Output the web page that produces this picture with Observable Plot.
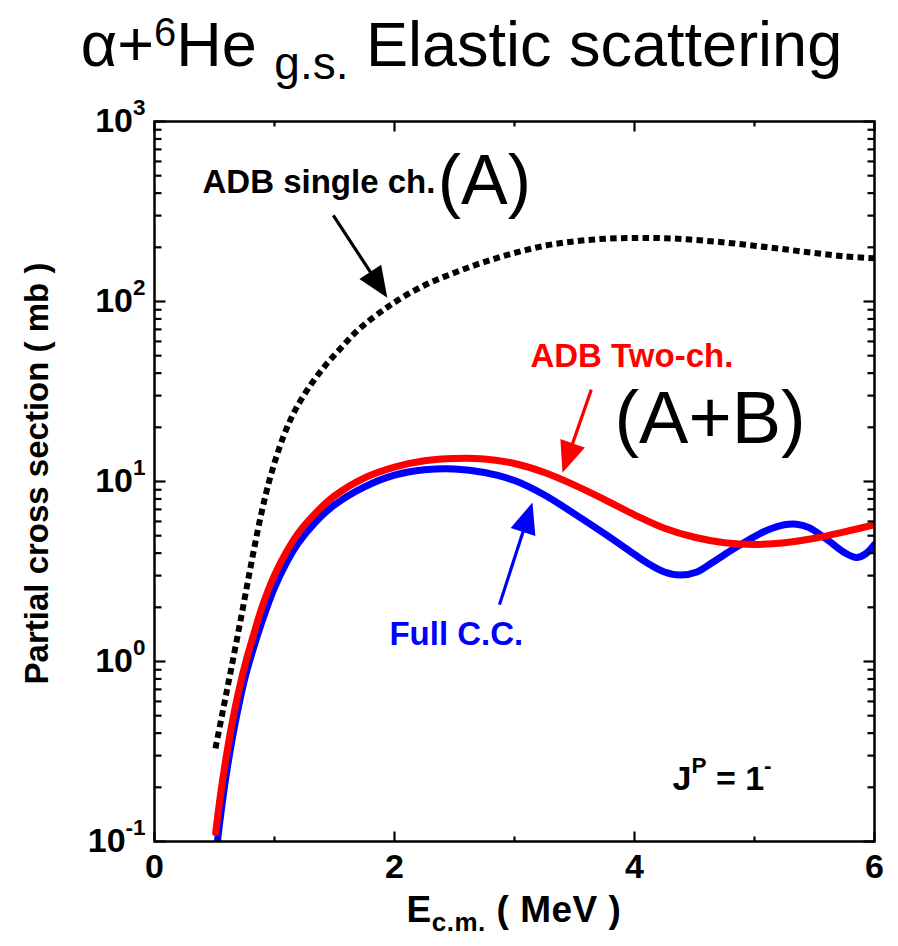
<!DOCTYPE html>
<html><head><meta charset="utf-8">
<script src="https://cdn.jsdelivr.net/npm/d3@7"></script>
<script src="https://cdn.jsdelivr.net/npm/@observablehq/plot@0.6"></script>
<style>
body{margin:0;background:#fff;}
#wrap{position:relative;width:898px;height:946px;font-family:"Liberation Sans",Arial,sans-serif;color:#000;overflow:hidden;background:#fff;}
#title{position:absolute;left:0;top:13px;width:923px;text-align:center;font-size:63px;line-height:63px;white-space:nowrap;}
#title .sup{font-size:40px;position:relative;top:-20px;}
#title .sub{font-size:46px;position:relative;top:13px;}
#chart{position:absolute;left:0;top:80px;}
#xlabel{position:absolute;left:130px;top:891px;width:768px;text-align:center;font-weight:bold;font-size:37px;line-height:37px;letter-spacing:0.5px;white-space:nowrap;}
#xlabel .sub{font-size:26px;position:relative;top:9px;}
</style></head>
<body>
<div id="wrap">
  <div id="title">α+<span class="sup">6</span>He <span class="sub">g.s.</span> Elastic scattering</div>
  <div id="chart"></div>
  <div id="xlabel">E<span class="sub">c.m.</span> ( MeV )</div>
</div>
<script>
// ---- data (E in MeV, cross section in mb) ----
const energyA = [0.508,0.567,0.633,0.717,0.80,0.883,0.967,1.075,1.175,1.30,1.425,1.55,1.675,1.80,1.925,2.025,2.25,2.50,2.75,3.00,3.25,3.50,3.75,4.00,4.25,4.50,4.75,5.00,5.25,5.50,5.75,6.00];
const sigmaA  = [0.329,0.521,0.869,1.690,3.327,6.31,10.7,17.8,25.1,34.3,44.2,54.8,67.3,79.4,91.4,101.4,123,144.5,166,186,204,216,223,225.4,224.9,219.8,212.8,204,195,186,178,174];

const energyAB = [0.51,0.55,0.60,0.65,0.70,0.75,0.80,0.90,1.00,1.10,1.20,1.35,1.50,1.75,2.00,2.25,2.50,2.75,3.00,3.25,3.50,3.75,4.00,4.25,4.50,4.75,5.00,5.25,5.50,5.75,6.00];
const sigmaAB  = [0.112,0.182,0.302,0.468,0.676,0.933,1.23,2.04,3.02,4.07,5.19,6.76,8.32,10.47,12.02,13.03,13.43,13.34,12.59,11.22,9.55,7.94,6.53,5.50,4.90,4.57,4.47,4.57,4.84,5.25,5.75];

const energyCC = [0.525,0.55,0.60,0.65,0.70,0.75,0.80,0.90,1.00,1.10,1.20,1.35,1.50,1.75,2.00,2.25,2.50,2.75,3.00,3.25,3.50,3.75,4.00,4.10,4.25,4.38,4.52,4.65,4.80,4.95,5.10,5.25,5.35,5.45,5.60,5.75,5.85,5.93,6.00];
const sigmaCC  = [0.100,0.138,0.240,0.380,0.562,0.794,1.047,1.698,2.570,3.548,4.571,6.026,7.413,9.333,10.84,11.61,11.75,11.22,10.12,8.414,6.607,5.129,3.936,3.548,3.141,3.020,3.141,3.548,4.121,4.732,5.346,5.754,5.794,5.559,4.786,4.027,3.784,3.981,4.467];

const xTicksMajor = [0,2,4,6];
const xTicksMinor = [1,3,5];
const yTicksMajor = [0.1,1,10,100,1000];
const yTickLabels = ["10^{-1}","10^{0}","10^{1}","10^{2}","10^{3}"];
const yTicksMinor = [];
for (const dec of [0.1,1,10,100]) for (let k = 2; k <= 9; k++) yTicksMinor.push(+(k*dec).toPrecision(3));

const noteText = ["ADB single ch.","(A)","ADB Two-ch.","(A+B)","Full C.C.","J^{P} = 1^{-}"];
const noteX    = [0.40, 2.36, 3.133, 3.833, 1.958, 4.317];
const noteY    = [461, 464, 49.5, 22.2, 1.42, 0.222];

const arrowFromX = [1.49, 3.64, 2.875];
const arrowFromY = [300.6, 32.4, 2.07];
const arrowToX   = [1.94, 3.40, 3.15];
const arrowToY   = [105, 11.2, 7.65];

// ---- layout ----
const W = 898, H = 820, mt = 41, mb = 59, ml = 154, mr = 24;
const xDomain = [0, 6], yDomain = [0.1, 1000];

const rows = (xs, ys) => xs.map((x, i) => ({x, y: ys[i]}));
const dataA = rows(energyA, sigmaA), dataAB = rows(energyAB, sigmaAB), dataCC = rows(energyCC, sigmaCC);

const xS = Plot.scale({x: {domain: xDomain, range: [ml, W - mr]}});
const yS = Plot.scale({y: {type: "log", domain: yDomain, range: [H - mb, mt]}});
const arrows = arrowToX.map((tx, i) => {
  const x1 = xS.apply(arrowFromX[i]), y1 = yS.apply(arrowFromY[i]);
  const x2 = xS.apply(tx), y2 = yS.apply(arrowToY[i]);
  return {x: tx, y: arrowToY[i], length: Math.hypot(x2 - x1, y2 - y1), rotate: Math.atan2(x2 - x1, -(y2 - y1)) * 180 / Math.PI};
});

const tickShape = {draw(ctx, l) { ctx.moveTo(0, 0); ctx.lineTo(0, -l); }};
const arrowShape = {draw(ctx, l) {
  const hw = 1.6, HL = 31, HW = 13;
  ctx.moveTo(-hw, 0); ctx.lineTo(-hw, -(l - HL)); ctx.lineTo(-HW, -(l - HL));
  ctx.lineTo(0, -l); ctx.lineTo(HW, -(l - HL)); ctx.lineTo(hw, -(l - HL)); ctx.lineTo(hw, 0); ctx.closePath();
}};
const tick = (vals, opts) => Plot.vector(vals, {anchor: "start", shape: tickShape, stroke: "black", strokeWidth: 2.2, strokeLinecap: "butt", ...opts});
const arrowMark = (i, color) => Plot.vector([arrows[i]], {x: "x", y: "y", length: "length", rotate: "rotate", anchor: "end", shape: arrowShape, fill: color, stroke: "none"});
const note = (i, opts) => Plot.text([i], {x: () => noteX[i], y: () => noteY[i], text: () => noteText[i], textAnchor: "start", lineAnchor: "middle", ...opts});

const chart = Plot.plot({
  width: W, height: H,
  marginTop: mt, marginBottom: mb, marginLeft: ml, marginRight: mr,
  style: {fontFamily: "'Liberation Sans', Arial, sans-serif", background: "transparent", color: "black", overflow: "visible"},
  x: {domain: xDomain},
  y: {type: "log", domain: yDomain},
  length: {type: "identity"},
  marks: [
    Plot.line(dataCC, {x: "x", y: "y", stroke: "#0000ff", strokeWidth: 7, curve: "catmull-rom", clip: true}),
    Plot.line(dataAB, {x: "x", y: "y", stroke: "#ff0000", strokeWidth: 7, curve: "catmull-rom", clip: true}),
    Plot.line(dataA, {x: "x", y: "y", stroke: "black", strokeWidth: 6, strokeDasharray: "6.5,4.3", strokeLinecap: "butt", strokeLinejoin: "miter", curve: "catmull-rom", clip: true}),
    // ticks (inward), all four sides
    tick(yTicksMajor, {x: 0, y: d => d, length: 11, rotate: 90}),
    tick(yTicksMinor, {x: 0, y: d => d, length: 7, rotate: 90}),
    tick(yTicksMajor, {x: 6, y: d => d, length: 11, rotate: -90}),
    tick(yTicksMinor, {x: 6, y: d => d, length: 7, rotate: -90}),
    tick(xTicksMajor, {x: d => d, y: 0.1, length: 10, rotate: 0}),
    tick(xTicksMinor, {x: d => d, y: 0.1, length: 5, rotate: 0}),
    tick(xTicksMajor, {x: d => d, y: 1000, length: 10, rotate: 180}),
    tick(xTicksMinor, {x: d => d, y: 1000, length: 5, rotate: 180}),
    Plot.frame({stroke: "black", strokeWidth: 2.5}),
    Plot.axisY(yTicksMajor, {tickSize: 0, tickPadding: 9, tickFormat: d => yTickLabels[yTicksMajor.indexOf(d)], fontSize: 34, fontWeight: "bold", label: null}),
    Plot.axisX(xTicksMajor, {tickSize: 0, tickPadding: 12, tickFormat: d => String(d), fontSize: 34, fontWeight: "bold", label: null}),
    Plot.text(["Partial cross section ( mb )"], {frameAnchor: "left", text: d => d, textAnchor: "middle", lineAnchor: "middle", dx: -117, dy: -8, rotate: -90, fontSize: 33, fontWeight: "bold"}),
    // annotations
    arrowMark(0, "black"), arrowMark(1, "#ff0000"), arrowMark(2, "#0000ff"),
    note(0, {fontSize: 33, fontWeight: "bold", fill: "black"}),
    note(1, {fontSize: 70, fill: "black"}),
    note(2, {fontSize: 33, fontWeight: "bold", fill: "#ff0000"}),
    note(3, {fontSize: 74, fill: "black"}),
    note(4, {fontSize: 33, fontWeight: "bold", fill: "#0000ff"}),
    note(5, {fontSize: 34, fontWeight: "bold", fill: "black"})
  ]
});
document.getElementById("chart").appendChild(chart);

// superscripts written as ^{...}
chart.querySelectorAll("text").forEach(t => {
  const s = t.textContent;
  if (!s.includes("^{")) return;
  const fs = parseFloat(getComputedStyle(t).fontSize) || 30;
  t.textContent = "";
  let raised = false;
  for (const p of s.split(/(\^\{[^}]*\})/).filter(p => p)) {
    const ts = document.createElementNS("http://www.w3.org/2000/svg", "tspan");
    if (p.startsWith("^{")) {
      ts.textContent = p.slice(2, -1);
      ts.setAttribute("font-size", fs * 0.66);
      ts.setAttribute("dy", -fs * 0.5);
      raised = true;
    } else {
      ts.textContent = p;
      if (raised) { ts.setAttribute("dy", fs * 0.5); raised = false; }
    }
    t.appendChild(ts);
  }
});
</script>
</body></html>
